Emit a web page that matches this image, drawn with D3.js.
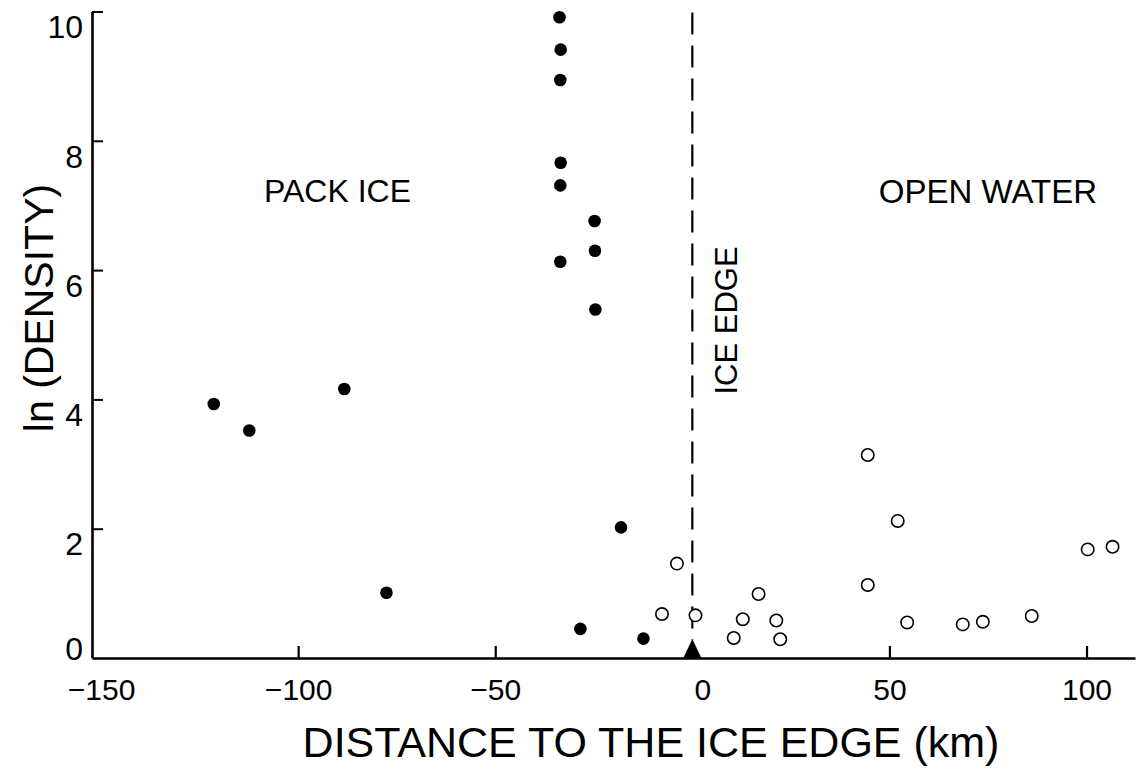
<!DOCTYPE html>
<html>
<head>
<meta charset="utf-8">
<script src="https://cdn.jsdelivr.net/npm/d3@7"></script>
<style>
  html, body { margin: 0; padding: 0; background: #fff; }
  svg { display: block; font-family: "Liberation Sans", Arial, Helvetica, sans-serif; }
</style>
</head>
<body>
<svg id="chart" width="1137" height="769"></svg>
<script>
// ---- data ----
const packIceX = [-33.7, -33.4, -33.5, -33.4, -33.5, -24.8, -24.7, -33.5, -24.6,
                  -121.4, -112.4, -88.3, -77.6, -18.1, -28.4, -12.4];
const packIceY = [9.91, 9.41, 8.94, 7.66, 7.31, 6.76, 6.30, 6.13, 5.39,
                  3.93, 3.52, 4.16, 1.01, 2.02, 0.45, 0.30];
const openWaterX = [-3.9, 16.8, -7.7, 0.8, 12.8, 21.3, 10.5, 22.3,
                    44.5, 52.1, 44.5, 54.5, 68.6, 73.7, 86.1, 100.3, 106.6];
const openWaterY = [1.46, 0.99, 0.68, 0.66, 0.60, 0.58, 0.31, 0.29,
                    3.14, 2.12, 1.13, 0.55, 0.52, 0.56, 0.65, 1.68, 1.72];
const iceEdgeX = 0;
const xTicks = [-150, -100, -50, 0, 50, 100];
const yTicks = [0, 2, 4, 6, 8, 10];
const xDomain = [-152.3, 112.3];
const yDomain = [0, 10];
const xTitle = "DISTANCE TO THE ICE EDGE (km)";
const yTitle = "ln (DENSITY)";
const leftLabel = "PACK ICE";
const rightLabel = "OPEN WATER";
const edgeLabel = "ICE EDGE";

// ---- layout ----
const svg = d3.select("#chart");
const M = {left: 92, right: 1135, top: 11.5, bottom: 658};
const x = d3.scaleLinear().domain(xDomain).range([M.left, M.right]);
const y = d3.scaleLinear().domain(yDomain).range([M.bottom, M.top]);

// x axis
const gx = svg.append("g").attr("transform", `translate(0,${M.bottom})`)
  .call(d3.axisBottom(x).tickValues(xTicks).tickSizeInner(-12).tickSizeOuter(0).tickPadding(21));
gx.select(".domain").attr("stroke", "#000").attr("stroke-width", 2.6);
gx.selectAll(".tick line").attr("stroke", "#000").attr("stroke-width", 2.2)
  .attr("display", d => d === xTicks[0] ? "none" : null);
gx.selectAll(".tick text").attr("font-size", 30).attr("fill", "#000")
  .attr("font-family", "Liberation Sans, Arial, sans-serif")
  .attr("dx", d => d === 0 ? 10 : 0);

// y axis
const gy = svg.append("g").attr("transform", `translate(${M.left},0)`)
  .call(d3.axisLeft(y).tickValues(yTicks).tickSizeInner(-11).tickSizeOuter(0).tickPadding(9));
gy.select(".domain").attr("stroke", "#000").attr("stroke-width", 2.6);
gy.selectAll(".tick line").attr("stroke", "#000").attr("stroke-width", 2)
  .attr("display", d => d === 0 ? "none" : null);
gy.selectAll(".tick text").attr("font-size", 32).attr("fill", "#000")
  .attr("font-family", "Liberation Sans, Arial, sans-serif")
  .attr("dy", d => d === 0 ? "0.05em" : "0.82em");

// ice edge dashed line
svg.append("line")
  .attr("x1", x(iceEdgeX)).attr("x2", x(iceEdgeX))
  .attr("y1", y(yDomain[1]) + 1).attr("y2", y(0) - 18)
  .attr("stroke", "#000").attr("stroke-width", 2.2)
  .attr("stroke-dasharray", "22,11");

// ice edge triangle marker on the axis
const tri = d3.path();
tri.moveTo(x(iceEdgeX) - 9, y(0));
tri.lineTo(x(iceEdgeX) + 9, y(0));
tri.lineTo(x(iceEdgeX), y(0) - 19);
tri.closePath();
svg.append("path").attr("d", tri.toString()).attr("fill", "#000");

// points
const packData = packIceX.map((v, i) => ({x: v, y: packIceY[i]}));
const openData = openWaterX.map((v, i) => ({x: v, y: openWaterY[i]}));

svg.append("g").selectAll("circle").data(packData).join("circle")
  .attr("cx", d => x(d.x)).attr("cy", d => y(d.y)).attr("r", 6.3)
  .attr("fill", "#000");

svg.append("g").selectAll("circle").data(openData).join("circle")
  .attr("cx", d => x(d.x)).attr("cy", d => y(d.y)).attr("r", 6.2)
  .attr("fill", "#fff").attr("stroke", "#000").attr("stroke-width", 1.6);

// region labels
svg.append("text").attr("x", 264).attr("y", 202)
  .attr("font-size", 32).attr("fill", "#000").text(leftLabel);
svg.append("text").attr("x", 1097).attr("y", 203).attr("text-anchor", "end")
  .attr("font-size", 33).attr("fill", "#000").text(rightLabel);
svg.append("text")
  .attr("transform", `translate(737,${(245 + 396) / 2}) rotate(-90)`)
  .attr("text-anchor", "middle").attr("font-size", 31).attr("fill", "#000")
  .text(edgeLabel);

// axis titles
svg.append("text").attr("x", 651).attr("y", 757).attr("text-anchor", "middle")
  .attr("font-size", 43).attr("fill", "#000").text(xTitle);
svg.append("text")
  .attr("transform", `translate(53,308) rotate(-90)`)
  .attr("text-anchor", "middle").attr("font-size", 41).attr("fill", "#000")
  .text(yTitle);
</script>
</body>
</html>
